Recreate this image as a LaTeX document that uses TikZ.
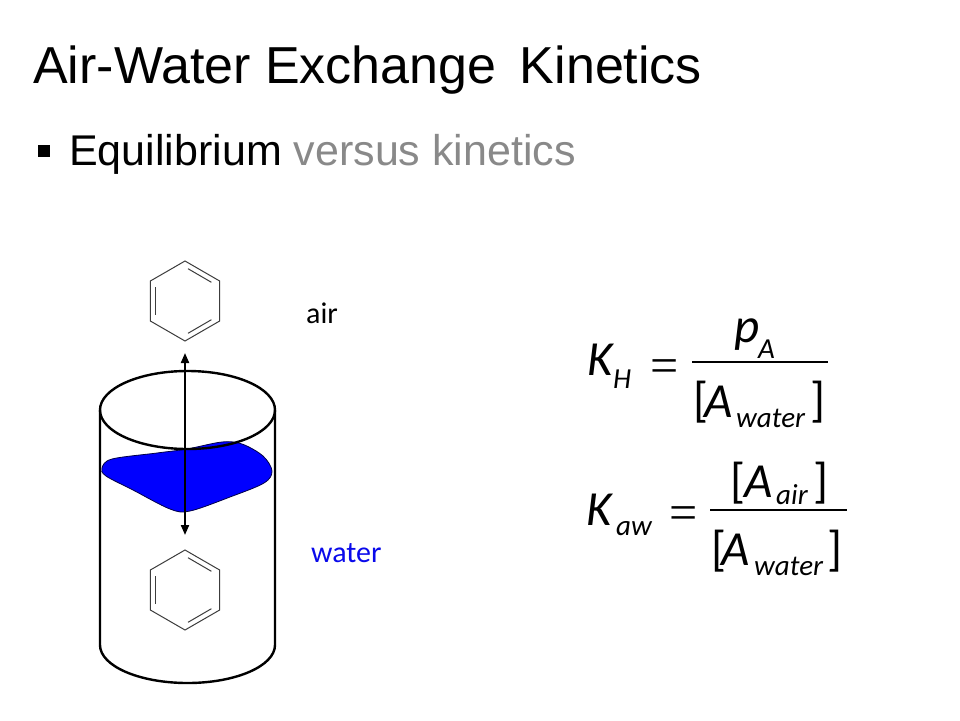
\documentclass[tikz,border=0pt]{standalone}
\usepackage{fontspec}
\setmainfont{Liberation Sans}
\newfontfamily\calfont{Carlito}
\newfontfamily\serifeq{Liberation Serif}
\usetikzlibrary{arrows.meta}
\definecolor{textgray}{RGB}{137,137,137}
\definecolor{ringgray}{RGB}{60,60,60}
\definecolor{waterblue}{RGB}{0,0,255}
\definecolor{labelblue}{RGB}{10,10,235}
\definecolor{bloboutline}{RGB}{0,0,70}
\tikzset{
  titlestyle/.style={anchor=base west, inner sep=0pt, font=\fontsize{52}{60}\selectfont},
  subtitlestyle/.style={anchor=base west, inner sep=0pt, font=\fontsize{43}{50}\selectfont},
  lbl/.style={anchor=base west, inner sep=0pt, font=\calfont\fontsize{30}{34}\selectfont},
  eqbig/.style={anchor=base west, inner sep=0pt, font=\calfont\itshape\fontsize{49}{56}\selectfont},
  eqsub/.style={anchor=base west, inner sep=0pt, font=\calfont\itshape\fontsize{29}{32}\selectfont},
  eqbr/.style={anchor=base west, inner sep=0pt, font=\calfont\fontsize{49}{56}\selectfont},
  eqeq/.style={anchor=center, inner sep=0pt, font=\serifeq\fontsize{50}{56}\selectfont},
  fracbar/.style={line width=2pt},
  ring/.style={line width=1pt, draw=ringgray},
  vessel/.style={line width=2.4pt, draw=black},
  exch/.style={line width=2pt, {Triangle[length=10pt,width=8pt]}-{Triangle[length=10pt,width=8pt]}},
  pics/benzene/.style={code={
    \draw[ring] (0,-40) -- (34.64,-20) -- (34.64,20) -- (0,40) -- (-34.64,20) -- (-34.64,-20) -- cycle;
    \draw[ring] (3.0,-32.3) -- (26.4,-18.7);
    \draw[ring] (26.4,18.7) -- (3.0,32.3);
    \draw[ring] (-29.44,13.6) -- (-29.44,-13.6);
  }}
}
\begin{document}
\begin{tikzpicture}[x=1pt,y=-1pt]
\useasboundingbox[fill=white] (0,0) rectangle (960,720);

% title and bullet line
\node[titlestyle] (title) at (33,83) {Air-Water Exchange\hspace{0.45em}Kinetics};
\node[fill=black, minimum size=12pt, inner sep=0pt] (bullet) at (43.5,151) {};
\node[subtitlestyle] (subtitle) at (69,165) {Equilibrium {\color{textgray}versus kinetics}};

% water blob
\draw[fill=waterblue, draw=bloboutline, line width=0.8pt]
  plot[smooth cycle, tension=0.55] coordinates {(102,468) (112,459) (157,453) (187,449) (222,442) (242,444) (263,456) (272,471) (264,483) (230,497) (190,511) (170,509) (133,490) (106,476)};

% vessel
\draw[vessel] (187.5,410) ellipse[x radius=87.5, y radius=39];
\draw[vessel] (100,410) -- (100,645) arc[start angle=180, end angle=0, x radius=87.5, y radius=38] -- (275,410);

% benzene rings
\pic (benzAir) at (185,301) {benzene};
\pic (benzWater) at (185,590) {benzene};

% exchange arrow
\coordinate (atop) at (185,353);
\coordinate (abot) at (185,535);
\draw[exch] (atop) -- (abot);

% phase labels
\node[lbl] (air) at (306,323) {air};
\node[lbl, text=labelblue] (water) at (311,562) {water};

% K_H equation
\node[eqbig] (K1) at (587,375) {K};
\node[eqsub] (H1) at (613,388) {H};
\node[eqeq] (eq1) at (665,371) {=};
\coordinate (f1a) at (692,362);
\coordinate (f1b) at (828,362);
\draw[fracbar] (f1a) -- (f1b);
\node[eqbig] (p1) at (734,342) {p};
\node[eqsub] (A1s) at (758,358) {A};
\node[eqbr] (lb1) at (693,416) {[};
\node[eqbig] (A1) at (704,417) {A};
\node[eqsub] (w1) at (736,427) {water};
\node[eqbr] (rb1) at (810,416) {]};

% K_aw equation
\node[eqbig] (K2) at (586,525) {K};
\node[eqsub] (aw2) at (616,535) {aw};
\node[eqeq] (eq2) at (684,518) {=};
\coordinate (f2a) at (710,510);
\coordinate (f2b) at (847,510);
\draw[fracbar] (f2a) -- (f2b);
\node[eqbr] (lb2n) at (730,497) {[};
\node[eqbig] (A2n) at (744,497) {A};
\node[eqsub] (air2) at (776,504) {air};
\node[eqbr] (rb2n) at (813,497) {]};
\node[eqbr] (lb2d) at (711,565) {[};
\node[eqbig] (A2d) at (721,565) {A};
\node[eqsub] (w2) at (754,575) {water};
\node[eqbr] (rb2d) at (827,565) {]};
\end{tikzpicture}
\end{document}
